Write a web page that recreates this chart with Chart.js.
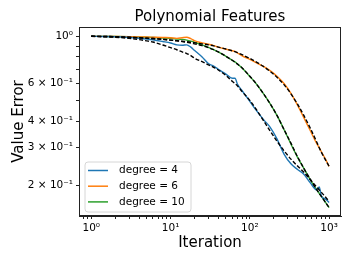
<!DOCTYPE html>
<html>
<head>
<meta charset="utf-8">
<script src="https://cdn.jsdelivr.net/npm/chart.js@4.4.1/dist/chart.umd.min.js"></script>
<style>
  html, body { margin: 0; padding: 0; background: #fff; }
  #wrap { width: 353px; height: 265px; }
</style>
</head>
<body>
<div id="wrap"><canvas id="polyChart" width="353" height="265"></canvas></div>
<script>
// Iteration numbers (shared x values)
const iters = [1, 1.5, 2, 3, 4, 5, 6, 8, 10, 12, 14, 16, 18, 20, 25, 30, 35, 40, 50, 60, 65, 70, 80,
    100, 120, 150, 180, 220, 270, 330, 400, 480, 580, 700, 750, 800, 900, 1000];

// Measured value error
const deg4 = [1.0, 0.998, 0.995, 0.988, 0.98, 0.972, 0.963, 0.945, 0.93, 0.912, 0.908, 0.912, 0.89, 0.86, 0.80, 0.745,
    0.725, 0.70, 0.665, 0.635, 0.635, 0.595, 0.555, 0.495, 0.45, 0.405, 0.375, 0.33, 0.28, 0.252, 0.237, 0.225,
    0.205, 0.19, 0.196, 0.178, 0.172, 0.166];
const deg6 = [1.0, 0.999, 0.998, 0.996, 0.994, 0.992, 0.99, 0.987, 0.985, 0.978, 0.985, 0.99, 0.975, 0.955, 0.932, 0.918,
    0.905, 0.89, 0.87, 0.855, 0.85, 0.835, 0.81, 0.78, 0.752, 0.72, 0.69, 0.65, 0.60, 0.54, 0.475, 0.415,
    0.36, 0.313, 0.30, 0.287, 0.265, 0.245];
const deg10 = [1.0, 0.999, 0.998, 0.995, 0.992, 0.99, 0.987, 0.982, 0.978, 0.972, 0.967, 0.96, 0.95, 0.938, 0.912, 0.888,
    0.865, 0.845, 0.805, 0.772, 0.758, 0.742, 0.71, 0.648, 0.60, 0.535, 0.483, 0.425, 0.365, 0.312, 0.27, 0.24,
    0.212, 0.19, 0.183, 0.177, 0.166, 0.157];

// Fitted curves (black dashed)
const fit4 = [1.0, 0.995, 0.99, 0.978, 0.965, 0.952, 0.94, 0.91, 0.885, 0.865, 0.845, 0.83, 0.812, 0.79, 0.76, 0.735,
    0.715, 0.695, 0.655, 0.615, 0.60, 0.585, 0.55, 0.50, 0.455, 0.40, 0.36, 0.322, 0.29, 0.265, 0.246, 0.23,
    0.212, 0.196, 0.19, 0.185, 0.176, 0.168];
const fit6 = [1.0, 0.998, 0.996, 0.99, 0.985, 0.98, 0.976, 0.968, 0.96, 0.954, 0.948, 0.943, 0.938, 0.933, 0.922, 0.912,
    0.902, 0.89, 0.872, 0.855, 0.847, 0.838, 0.82, 0.788, 0.758, 0.72, 0.685, 0.642, 0.593, 0.537, 0.48, 0.425,
    0.37, 0.318, 0.30, 0.285, 0.263, 0.245];
const fit10 = [1.0, 0.998, 0.996, 0.99, 0.985, 0.98, 0.976, 0.968, 0.96, 0.952, 0.945, 0.938, 0.93, 0.922, 0.905, 0.885,
    0.865, 0.845, 0.805, 0.772, 0.756, 0.74, 0.71, 0.65, 0.60, 0.535, 0.483, 0.425, 0.365, 0.315, 0.272, 0.24,
    0.213, 0.19, 0.183, 0.177, 0.166, 0.157];

const seriesLabels = ['degree = 4', 'degree = 6', 'degree = 10'];
const seriesColors = ['#1f77b4', '#ff7f0e', '#2ca02c'];

// Tick positions
const xTicks = [0.8, 0.9, 1, 2, 3, 4, 5, 6, 7, 8, 9, 10, 20, 30, 40, 50, 60, 70, 80, 90,
    100, 200, 300, 400, 500, 600, 700, 800, 900, 1000];
const xLabels = { 1: '10\u2070', 10: '10\u00b9', 100: '10\u00b2', 1000: '10\u00b3' };
const yTicks = [0.2, 0.3, 0.4, 0.5, 0.6, 0.7, 0.8, 0.9, 1];
const yLabels = { 0.2: '2 \u00d7 10\u207b\u00b9', 0.3: '3 \u00d7 10\u207b\u00b9', 0.4: '4 \u00d7 10\u207b\u00b9',
    0.6: '6 \u00d7 10\u207b\u00b9', 1: '10\u2070' };

const FONT = 'DejaVu Sans';

function pts(ys) {
    return iters.map((x, i) => ({ x: x, y: ys[i] }));
}

function lookup(map, v) {
    for (const k in map) {
        if (Math.abs(parseFloat(k) - v) < 1e-6 * Math.max(1, v)) return map[k];
    }
    return '';
}

// full frame round the plot area + legend inside the axes
const framePlugin = {
    id: 'frame',
    afterDraw(chart) {
        const { ctx, chartArea: a } = chart;
        ctx.save();
        ctx.strokeStyle = '#222';
        ctx.lineWidth = 1;
        ctx.strokeRect(a.left + 0.5, a.top + 0.5, a.right - a.left - 1, a.bottom - a.top - 1);

        // legend box
        const bx = 85, by = 162, bw = 106, bh = 50, r = 3;
        ctx.beginPath();
        ctx.moveTo(bx + r, by);
        ctx.arcTo(bx + bw, by, bx + bw, by + bh, r);
        ctx.arcTo(bx + bw, by + bh, bx, by + bh, r);
        ctx.arcTo(bx, by + bh, bx, by, r);
        ctx.arcTo(bx, by, bx + bw, by, r);
        ctx.closePath();
        ctx.fillStyle = 'rgba(255,255,255,0.8)';
        ctx.fill();
        ctx.strokeStyle = '#d6d6d6';
        ctx.lineWidth = 1;
        ctx.stroke();

        ctx.font = '10.5px "' + FONT + '"';
        ctx.textBaseline = 'middle';
        ctx.textAlign = 'left';
        seriesLabels.forEach((lab, i) => {
            const yy = 170.5 + i * 15.7;
            ctx.beginPath();
            ctx.moveTo(88, yy);
            ctx.lineTo(108, yy);
            ctx.strokeStyle = seriesColors[i];
            ctx.lineWidth = 1.5;
            ctx.stroke();
            ctx.fillStyle = '#000';
            ctx.fillText(lab, 119, yy);
        });
        ctx.restore();
    }
};

function curve(data, color, label) {
    return {
        label: label,
        data: pts(data),
        borderColor: color,
        backgroundColor: color,
        borderWidth: 1.4,
        pointRadius: 0,
        cubicInterpolationMode: 'monotone',
        order: 2
    };
}

function fitLine(data) {
    return {
        label: 'fit',
        data: pts(data),
        borderColor: '#000',
        borderWidth: 1.4,
        borderDash: [4, 2],
        pointRadius: 0,
        cubicInterpolationMode: 'monotone',
        order: 1
    };
}

const ctx = document.getElementById('polyChart');
new Chart(ctx.getContext('2d'), {
    type: 'line',
    data: {
        datasets: [
            curve(deg4, seriesColors[0], seriesLabels[0]),
            fitLine(fit4),
            curve(deg6, seriesColors[1], seriesLabels[1]),
            fitLine(fit6),
            curve(deg10, seriesColors[2], seriesLabels[2]),
            fitLine(fit10)
        ]
    },
    options: {
        responsive: false,
        animation: false,
        layout: { padding: { left: 0, right: 12, top: 0, bottom: 0 } },
        plugins: {
            legend: { display: false },
            tooltip: { enabled: false },
            title: {
                display: true,
                fullSize: false,
                text: 'Polynomial Features',
                color: '#000',
                font: { family: FONT, size: 15, weight: 'normal', lineHeight: 1.2 },
                padding: { top: 8, bottom: 1 }
            }
        },
        scales: {
            x: {
                type: 'logarithmic',
                min: 0.708,
                max: 1413,
                afterFit(scale) { scale.height = 49; },
                afterBuildTicks(scale) { scale.ticks = xTicks.map(v => ({ value: v })); },
                grid: { drawOnChartArea: false, drawTicks: true, tickLength: 3, color: '#222' },
                border: { display: true, color: '#222', width: 1 },
                ticks: {
                    autoSkip: false,
                    maxRotation: 0,
                    padding: 3,
                    color: '#000',
                    font: { family: FONT, size: 10.5 },
                    callback: (v) => lookup(xLabels, v)
                },
                title: {
                    display: true,
                    text: 'Iteration',
                    color: '#000',
                    font: { family: FONT, size: 15, lineHeight: 1.2 },
                    padding: { top: 0, bottom: 13 }
                }
            },
            y: {
                type: 'logarithmic',
                min: 0.1433,
                max: 1.106,
                afterFit(scale) { scale.width = 79; },
                afterBuildTicks(scale) { scale.ticks = yTicks.map(v => ({ value: v })); },
                grid: { drawOnChartArea: false, drawTicks: true, tickLength: 3, color: '#222' },
                border: { display: true, color: '#222', width: 1 },
                ticks: {
                    autoSkip: false,
                    padding: 3,
                    color: '#000',
                    font: { family: FONT, size: 10.5 },
                    callback: (v) => lookup(yLabels, v)
                },
                title: {
                    display: true,
                    text: 'Value Error',
                    color: '#000',
                    font: { family: FONT, size: 15, lineHeight: 1.2 },
                    padding: { top: 10, bottom: 0 }
                }
            }
        }
    },
    plugins: [framePlugin]
});
</script>
</body>
</html>
